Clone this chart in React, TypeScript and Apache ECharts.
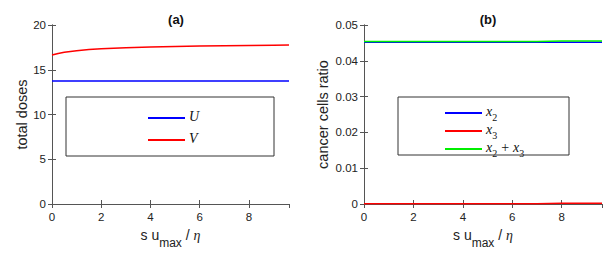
import React, { useEffect, useRef } from "react";
import * as echarts from "echarts";

const xs = [0, 0.25, 0.5, 0.75, 1, 1.5, 2, 2.5, 3, 4, 5, 6, 7, 8, 9, 9.63];
const uVals = [13.75, 13.75, 13.75, 13.75, 13.75, 13.75, 13.75, 13.75, 13.75, 13.75, 13.75, 13.75, 13.75, 13.75, 13.75, 13.75];
const vVals = [16.65, 16.82, 16.95, 17.05, 17.13, 17.25, 17.34, 17.4, 17.45, 17.53, 17.6, 17.65, 17.69, 17.72, 17.75, 17.76];
const x2Vals = [0.0452, 0.0452, 0.0452, 0.0452, 0.0452, 0.0452, 0.0452, 0.0452, 0.0452, 0.0452, 0.0452, 0.0452, 0.0452, 0.0452, 0.0452, 0.0452];
const x3Vals = [0.0001, 0.0001, 0.0001, 0.0001, 0.0001, 0.0001, 0.0001, 0.0001, 0.0001, 0.0001, 0.0001, 0.0001, 0.0001, 0.0002, 0.0002, 0.0002];
const sumVals = [0.0454, 0.0454, 0.0454, 0.0454, 0.0454, 0.0454, 0.0454, 0.0454, 0.0454, 0.0454, 0.0454, 0.0454, 0.0454, 0.0455, 0.0455, 0.0455];

const X_MAX = 9.63;
const FONT = "Liberation Sans, Arial, sans-serif";
const SERIF = "Liberation Serif, serif";
const AXIS_COLOR = "#555";
const LABEL_COLOR = "#222";

const pair = (ys: number[]) => xs.map((x, i) => [x, ys[i]]);

export default function App() {
  const ref = useRef<HTMLDivElement>(null);
  useEffect(() => {
    if (!ref.current) return;
    const chart = echarts.init(ref.current, null, { renderer: "svg" });
    const grids = [
      { left: 52, top: 25, width: 237, height: 182 },
      { left: 364, top: 25, width: 238, height: 182 },
    ];
    const xName = "{a|s u}{sub|max}{a| / }{e|η}";
    const xNameRich = {
      a: { fontSize: 14, fontFamily: FONT, color: LABEL_COLOR, lineHeight: 21, verticalAlign: "top" },
      sub: { fontSize: 12, fontFamily: FONT, color: LABEL_COLOR, lineHeight: 21, verticalAlign: "bottom" },
      e: { fontSize: 14, fontFamily: SERIF, fontStyle: "italic", color: LABEL_COLOR, lineHeight: 21, verticalAlign: "top" },
    };
    const baseX = (gi: number, pos: "bottom" | "top") => ({
      type: "value",
      gridIndex: gi,
      position: pos,
      min: 0,
      max: X_MAX,
      interval: 2,
      axisLine: { show: true, lineStyle: { color: AXIS_COLOR, width: 1 } },
      axisTick: { show: true, inside: true, length: 4, lineStyle: { color: AXIS_COLOR } },
      splitLine: { show: false },
      axisLabel: pos === "bottom"
        ? { show: true, color: LABEL_COLOR, fontSize: 11.5, fontFamily: FONT, margin: 7, showMaxLabel: false }
        : { show: false },
      name: pos === "bottom" ? xName : "",
      nameLocation: "middle",
      nameGap: 24,
      nameTextStyle: { rich: xNameRich, verticalAlign: "top" },
    });
    const baseY = (gi: number, pos: "left" | "right", max: number, interval: number, name: string, nameGap: number) => ({
      type: "value",
      gridIndex: gi,
      position: pos,
      min: 0,
      max,
      interval,
      axisLine: { show: true, lineStyle: { color: AXIS_COLOR, width: 1 } },
      axisTick: { show: true, inside: true, length: 4, lineStyle: { color: AXIS_COLOR } },
      splitLine: { show: false },
      axisLabel: pos === "left"
        ? { show: true, color: LABEL_COLOR, fontSize: 11.5, fontFamily: FONT, margin: 6 }
        : { show: false },
      name: pos === "left" ? name : "",
      nameLocation: "middle",
      nameGap,
      nameTextStyle: { fontSize: 14.5, fontFamily: FONT, color: LABEL_COLOR },
    });
    const legendRich = {
      i: { fontSize: 14, fontFamily: SERIF, fontStyle: "italic", color: "#111", lineHeight: 18, verticalAlign: "top" },
      s: { fontSize: 10, fontFamily: SERIF, color: "#111", lineHeight: 18, verticalAlign: "bottom" },
      p: { fontSize: 14, fontFamily: SERIF, color: "#111", lineHeight: 18, verticalAlign: "top", padding: [0, 4, 0, 4] },
    };
    const legendFmt = (n: string) => {
      if (n === "U") return "{i|U}";
      if (n === "V") return "{i|V}";
      if (n === "x2") return "{i|x}{s|2}";
      if (n === "x3") return "{i|x}{s|3}";
      return "{i|x}{s|2}{p|+}{i|x}{s|3}";
    };
    const line = (name: string, data: number[][], color: string, gi: number) => ({
      type: "line",
      name,
      data,
      xAxisIndex: gi * 2,
      yAxisIndex: gi * 2,
      symbol: "none",
      showSymbol: false,
      lineStyle: { color, width: 1.5 },
      itemStyle: { color },
    });
    const legendBase = {
      orient: "vertical",
      icon: "rect",
      itemWidth: 37,
      itemHeight: 2,
      formatter: legendFmt,
      textStyle: { rich: legendRich, padding: [0, 0, 0, -1] },
      selectedMode: false,
    };
    chart.setOption({
      animation: false,
      backgroundColor: "#fff",
      grid: grids,
      title: [
        { text: "(a)", left: 171, top: 8, textAlign: "center", textStyle: { fontSize: 13, fontWeight: "bold", fontFamily: FONT, color: "#111" } },
        { text: "(b)", left: 483, top: 8, textAlign: "center", textStyle: { fontSize: 13, fontWeight: "bold", fontFamily: FONT, color: "#111" } },
      ],
      xAxis: [baseX(0, "bottom"), baseX(0, "top"), baseX(1, "bottom"), baseX(1, "top")],
      yAxis: [
        baseY(0, "left", 20, 5, "total doses", 23),
        baseY(0, "right", 20, 5, "", 0),
        baseY(1, "left", 0.05, 0.01, "cancer cells ratio", 34),
        baseY(1, "right", 0.05, 0.01, "", 0),
      ],
      legend: [
        { ...legendBase, data: ["U", "V"], left: 143, top: 104, itemGap: 8 },
        { ...legendBase, data: ["x2", "x3", "x2+x3"], left: 440, top: 99, itemGap: 0 },
      ],
      graphic: [
        { type: "rect", shape: { x: 66, y: 97, width: 208, height: 59 }, style: { fill: "none", stroke: "#333", lineWidth: 1 }, z: 10 },
        { type: "rect", shape: { x: 398, y: 97, width: 171, height: 58 }, style: { fill: "none", stroke: "#333", lineWidth: 1 }, z: 10 },
      ],
      series: [
        line("U", pair(uVals), "#0000ff", 0),
        line("V", pair(vVals), "#ff0000", 0),
        line("x2", pair(x2Vals), "#0000ff", 1),
        line("x3", pair(x3Vals), "#ff0000", 1),
        line("x2+x3", pair(sumVals), "#00ee00", 1),
      ],
    });
    return () => chart.dispose();
  }, []);
  return <div ref={ref} style={{ width: 613, height: 254, position: "absolute", left: 0, top: 0 }} />;
}
